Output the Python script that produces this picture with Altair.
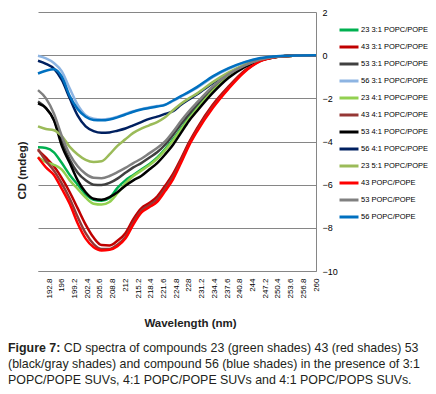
import altair as alt
import pandas as pd

wavelength = [190, 192, 194, 196, 198, 200, 202, 204, 206, 208, 210, 212, 214, 216, 218,
              220, 222, 224, 226, 228, 230, 234, 238, 242, 246, 250, 255, 260]

series_names = ["23 3:1 POPC/POPE", "43 3:1 POPC/POPE", "53 3:1 POPC/POPE", "56 3:1 POPC/POPE",
                "23 4:1 POPC/POPE", "43 4:1 POPC/POPE", "53 4:1 POPC/POPE", "56 4:1 POPC/POPE",
                "23 5:1 POPC/POPE", "43 POPC/POPE", "53 POPC/POPE", "56 POPC/POPE"]
series_colors = ["#00B050", "#C00000", "#404040", "#8DB4E2",
                 "#92D050", "#953735", "#000000", "#002060",
                 "#9BBB59", "#FF0000", "#808080", "#0070C0"]

s23_31 = [-4.27, -4.3, -4.5, -5.0, -5.55, -6.0, -6.45, -6.7, -6.75, -6.62, -6.15, -5.8, -5.55, -5.3, -5.05,
          -4.75, -4.35, -3.9, -3.4, -2.9, -2.45, -1.62, -0.98, -0.5, -0.2, -0.07, -0.02, 0.0]
s43_31 = [-4.4, -4.75, -5.15, -5.7, -6.35, -7.1, -7.85, -8.45, -8.8, -8.82, -8.6, -8.25, -7.6, -7.1, -6.85,
          -6.55, -6.05, -5.5, -4.8, -4.05, -3.4, -2.3, -1.45, -0.72, -0.25, -0.07, -0.02, 0.0]
s53_31 = [-2.15, -2.45, -3.0, -4.0, -4.85, -5.45, -5.8, -6.0, -6.02, -5.92, -5.72, -5.45, -5.2, -5.0, -4.75,
          -4.5, -4.15, -3.7, -3.2, -2.75, -2.3, -1.55, -0.92, -0.5, -0.2, -0.07, -0.02, 0.0]
s56_31 = [-0.03, -0.15, -0.36, -0.75, -1.55, -2.3, -2.78, -2.95, -2.98, -2.95, -2.85, -2.72, -2.6, -2.5, -2.42,
          -2.36, -2.3, -2.12, -1.92, -1.72, -1.52, -1.02, -0.64, -0.34, -0.15, -0.06, -0.01, 0.0]
s23_41 = [-4.73, -4.95, -5.08, -5.3, -5.8, -6.2, -6.6, -6.88, -6.92, -6.8, -6.4, -5.95, -5.6, -5.35, -5.1,
          -4.8, -4.4, -3.95, -3.45, -2.95, -2.5, -1.65, -1.0, -0.52, -0.22, -0.08, -0.02, 0.0]
s43_41 = [-4.35, -4.9, -5.35, -5.95, -6.65, -7.5, -8.25, -8.75, -8.98, -8.98, -8.78, -8.42, -7.75, -7.2, -6.95,
          -6.68, -6.18, -5.62, -4.9, -4.12, -3.48, -2.38, -1.5, -0.75, -0.26, -0.08, -0.02, 0.0]
s53_41 = [-2.23, -2.45, -3.0, -4.2, -5.0, -5.8, -6.35, -6.65, -6.7, -6.58, -6.35, -6.05, -5.8, -5.6, -5.3,
          -5.0, -4.6, -4.15, -3.6, -3.05, -2.6, -1.75, -1.05, -0.55, -0.24, -0.08, -0.02, 0.0]
s56_41 = [-0.26, -0.4, -0.62, -1.15, -2.0, -2.8, -3.3, -3.52, -3.6, -3.58, -3.5, -3.4, -3.25, -3.1, -2.95,
          -2.85, -2.72, -2.6, -2.3, -2.05, -1.82, -1.3, -0.85, -0.46, -0.19, -0.06, -0.01, 0.0]
s23_51 = [-3.3, -3.42, -3.48, -3.75, -4.25, -4.6, -4.85, -4.95, -4.92, -4.6, -4.2, -3.9, -3.6, -3.4, -3.25,
          -3.1, -2.88, -2.55, -2.25, -2.0, -1.78, -1.25, -0.8, -0.45, -0.2, -0.07, -0.02, 0.0]
s43_pp = [-4.73, -5.2, -5.55, -6.2, -6.9, -7.8, -8.5, -8.9, -9.05, -9.02, -8.85, -8.5, -7.85, -7.3, -7.05,
          -6.8, -6.3, -5.75, -5.0, -4.2, -3.55, -2.45, -1.55, -0.78, -0.28, -0.08, -0.02, 0.0]
s53_pp = [-1.62, -2.0, -2.7, -3.75, -4.6, -5.15, -5.5, -5.68, -5.7, -5.6, -5.42, -5.22, -5.0, -4.8, -4.55,
          -4.3, -4.0, -3.55, -3.05, -2.6, -2.2, -1.45, -0.88, -0.48, -0.2, -0.07, -0.02, 0.0]
s56_pp = [-0.85, -0.72, -0.65, -1.0, -1.9, -2.5, -2.85, -3.0, -3.02, -2.98, -2.88, -2.75, -2.62, -2.52, -2.45,
          -2.38, -2.3, -2.1, -1.9, -1.7, -1.48, -0.98, -0.6, -0.32, -0.13, -0.05, -0.01, 0.0]

x_tick_values = [192.8, 196, 199.2, 202.4, 205.6, 208.8, 212, 215.2, 218.4, 221.6, 224.8, 228, 231.2,
                 234.4, 237.6, 240.8, 244, 247.2, 250.4, 253.6, 256.8, 260]
y_tick_values = [-10, -8, -6, -4, -2, 0, 2]

caption_bold = ["Figure 7:"]
caption_line1 = ["CD spectra of compounds 23 (green shades) 43 (red shades) 53"]
caption_line2 = ["(black/gray shades) and compound 56 (blue shades) in the presence of 3:1"]
caption_line3 = ["POPC/POPE SUVs, 4:1 POPC/POPE SUVs and 4:1 POPC/POPS SUVs."]

all_series = [s23_31, s43_31, s53_31, s56_31, s23_41, s43_41, s53_41, s56_41,
              s23_51, s43_pp, s53_pp, s56_pp]

rows = []
for i, (name, vals) in enumerate(zip(series_names, all_series)):
    for w, v in zip(wavelength, vals):
        rows.append({"series": name, "wl": w, "cd": v, "idx": i})
df = pd.DataFrame(rows)

FONT = "Liberation Sans"
GRID = "#868686"
CAP_SIZE = 12.4

lines = alt.Chart(df).mark_line(strokeWidth=2.5, interpolate="monotone").encode(
    x=alt.X("wl:Q",
            scale=alt.Scale(domain=[190, 260], nice=False, zero=False),
            axis=alt.Axis(values=x_tick_values, format=".1~f", labelAngle=-90, labelFont=FONT,
                          labelFontSize=8, labelColor="#000", labelPadding=7, ticks=False,
                          grid=False, domainColor=GRID, domainWidth=1,
                          title="Wavelength (nm)", titleFont=FONT, titleFontSize=11.5,
                          titleFontWeight="bold", titleColor="#222",
                          titleX=152, titleY=52, titleAlign="center", titleBaseline="middle",
                          labelOverlap=False)),
    y=alt.Y("cd:Q",
            scale=alt.Scale(domain=[-10, 2], nice=False, zero=False),
            axis=alt.Axis(orient="right", values=y_tick_values, format="d", labelFont=FONT,
                          labelFontSize=9, labelColor="#000", labelPadding=6, ticks=False,
                          grid=True, gridColor=GRID, gridWidth=1, domainColor=GRID, domainWidth=1,
                          title="CD (mdeg)", titleFont=FONT, titleFontSize=11.5,
                          titleFontWeight="bold", titleColor="#222", titleAngle=270,
                          titleX=-294, titleY=158, titleAlign="center", titleBaseline="middle")),
    color=alt.Color("series:N",
                    scale=alt.Scale(domain=series_names, range=series_colors),
                    legend=alt.Legend(title=None, orient="none", legendX=300, legendY=7,
                                      symbolType="stroke", symbolSize=361, symbolStrokeWidth=3,
                                      labelFont=FONT, labelFontSize=7.5, labelColor="#000",
                                      labelOffset=1, labelLimit=300, rowPadding=0, padding=0,
                                      direction="vertical")),
    order=alt.Order("idx:Q"),
    detail="series:N",
)

def caption(texts, x, y, bold=False):
    return alt.Chart(pd.DataFrame({"t": texts})).mark_text(
        align="left", baseline="middle", font=FONT, fontSize=CAP_SIZE,
        fontWeight="bold" if bold else "normal", color="#231F20"
    ).encode(x=alt.value(x), y=alt.value(y), text="t:N")

chart = alt.layer(
    lines,
    caption(caption_bold, -30, 336, bold=True),
    caption(caption_line1, 25.8, 336),
    caption(caption_line2, -30, 352),
    caption(caption_line3, -30, 368),
).properties(
    width=278, height=259,
    autosize=alt.AutoSizeParams(type="none"),
    padding={"left": 30, "top": 4, "right": 112, "bottom": 115},
).configure_view(stroke=None)

chart.save("out.html", embed_options={"renderer": "svg", "actions": False})
